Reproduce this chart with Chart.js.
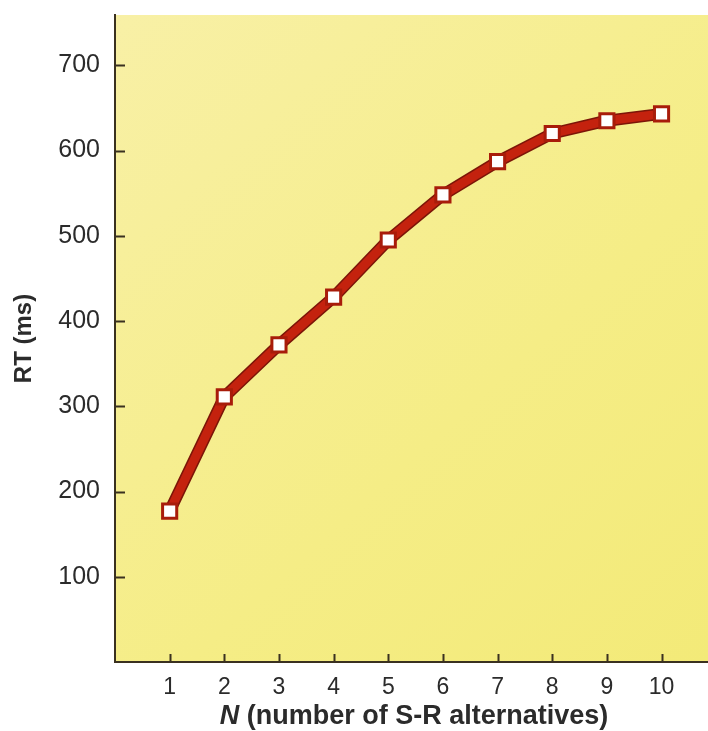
<!DOCTYPE html>
<html>
<head>
<meta charset="utf-8">
<script src="https://cdn.jsdelivr.net/npm/chart.js@4"></script>
<style>
html, body { margin: 0; padding: 0; background: #fff; }
#wrap { width: 708px; height: 731px; }
</style>
</head>
<body>
<div id="wrap"><canvas id="rtChart" width="708" height="731"></canvas></div>
<script>
// Data
const alternatives = [1, 2, 3, 4, 5, 6, 7, 8, 9, 10];
const rtValues = [177, 311, 372, 428, 495, 548, 587, 620, 635, 643];
const xTickValues = [1, 2, 3, 4, 5, 6, 7, 8, 9, 10];
const yTickValues = [100, 200, 300, 400, 500, 600, 700];

const fontFamily = '"Liberation Sans", Arial, Helvetica, sans-serif';
const inkColor = '#2b2b2b';
const axisColor = '#3a3120';

// Yellow plot background
const plotBackground = {
    id: 'plotBackground',
    beforeDraw(chart) {
        const { ctx, chartArea: a } = chart;
        ctx.save();
        const g = ctx.createLinearGradient(a.left, a.top, a.right, a.bottom);
        g.addColorStop(0, '#f8f0a6');
        g.addColorStop(0.6, '#f5ed86');
        g.addColorStop(1, '#f3ea78');
        ctx.fillStyle = g;
        ctx.fillRect(a.left, a.top, a.right - a.left, a.bottom - a.top);
        ctx.restore();
    }
};

// Short inward tick marks
const innerTicks = {
    id: 'innerTicks',
    beforeDatasetsDraw(chart) {
        const { ctx, chartArea: a, scales } = chart;
        ctx.save();
        ctx.strokeStyle = axisColor;
        ctx.lineWidth = 2;
        ctx.beginPath();
        yTickValues.forEach(v => {
            const y = Math.round(scales.y.getPixelForValue(v)) + 0.5;
            ctx.moveTo(a.left, y);
            ctx.lineTo(a.left + 10, y);
        });
        xTickValues.forEach(v => {
            const x = Math.round(scales.x.getPixelForValue(v)) + 0.5;
            ctx.moveTo(x, a.bottom);
            ctx.lineTo(x, a.bottom - 8);
        });
        ctx.stroke();
        ctx.restore();
    }
};

// Dark edge under the red line
const lineOutline = {
    id: 'lineOutline',
    beforeDatasetDraw(chart, args) {
        const pts = args.meta.data;
        if (!pts.length) return;
        const ctx = chart.ctx;
        ctx.save();
        ctx.strokeStyle = '#7c1508';
        ctx.lineWidth = 12;
        ctx.lineJoin = 'round';
        ctx.beginPath();
        pts.forEach((p, i) => i ? ctx.lineTo(p.x, p.y) : ctx.moveTo(p.x, p.y));
        ctx.stroke();
        ctx.restore();
    }
};

// X axis title with italic N
const xTitle = {
    id: 'xTitle',
    afterDraw(chart) {
        const { ctx } = chart;
        const first = 'N';
        const rest = ' (number of S-R alternatives)';
        const size = 27;
        ctx.save();
        ctx.fillStyle = inkColor;
        ctx.textBaseline = 'middle';
        ctx.font = 'italic bold ' + size + 'px ' + fontFamily;
        const w1 = ctx.measureText(first).width;
        ctx.font = 'bold ' + size + 'px ' + fontFamily;
        const w2 = ctx.measureText(rest).width;
        const x = 414 - (w1 + w2) / 2;
        const y = 717;
        ctx.font = 'italic bold ' + size + 'px ' + fontFamily;
        ctx.fillText(first, x, y);
        ctx.font = 'bold ' + size + 'px ' + fontFamily;
        ctx.fillText(rest, x + w1, y);
        ctx.restore();
    }
};

function noPadding(s) {
    s.paddingTop = 0;
    s.paddingBottom = 0;
    s.paddingLeft = 0;
    s.paddingRight = 0;
}

function drawChart() {
    const ctx = document.getElementById('rtChart').getContext('2d');
    new Chart(ctx, {
        type: 'line',
        data: {
            datasets: [{
                data: alternatives.map((n, i) => ({ x: n, y: rtValues[i] })),
                borderColor: '#c4220e',
                borderWidth: 9,
                tension: 0,
                pointStyle: 'rect',
                pointRadius: 10,
                pointBorderWidth: 3,
                pointBackgroundColor: '#ffffff',
                pointBorderColor: '#a81c0a',
                clip: false
            }]
        },
        options: {
            responsive: false,
            animation: false,
            layout: { autoPadding: false, padding: { top: 15, right: 0, left: 0, bottom: 0 } },
            plugins: {
                legend: { display: false },
                tooltip: { enabled: false }
            },
            scales: {
                x: {
                    type: 'linear',
                    min: 0,
                    max: 10.85,
                    afterBuildTicks: s => { s.ticks = xTickValues.map(v => ({ value: v })); },
                    afterFit: s => { s.height = 69; noPadding(s); },
                    grid: { display: false, drawTicks: false, tickLength: 0 },
                    border: { display: true, color: axisColor, width: 2 },
                    ticks: {
                        color: inkColor,
                        font: { family: fontFamily, size: 23 },
                        padding: 12,
                        maxRotation: 0,
                        autoSkip: false
                    }
                },
                y: {
                    type: 'linear',
                    min: 0,
                    max: 759,
                    afterBuildTicks: s => { s.ticks = yTickValues.map(v => ({ value: v })); },
                    afterFit: s => { s.width = 115; noPadding(s); },
                    grid: { display: false, drawTicks: false, tickLength: 0 },
                    border: { display: true, color: axisColor, width: 2 },
                    title: {
                        display: true,
                        text: 'RT (ms)',
                        color: inkColor,
                        font: { family: fontFamily, size: 24, weight: 'bold' },
                        padding: { top: 10, bottom: 0 }
                    },
                    ticks: {
                        color: inkColor,
                        font: { family: fontFamily, size: 25 },
                        padding: 15
                    }
                }
            }
        },
        plugins: [plotBackground, innerTicks, lineOutline, xTitle]
    });
}

drawChart();
</script>
</body>
</html>
